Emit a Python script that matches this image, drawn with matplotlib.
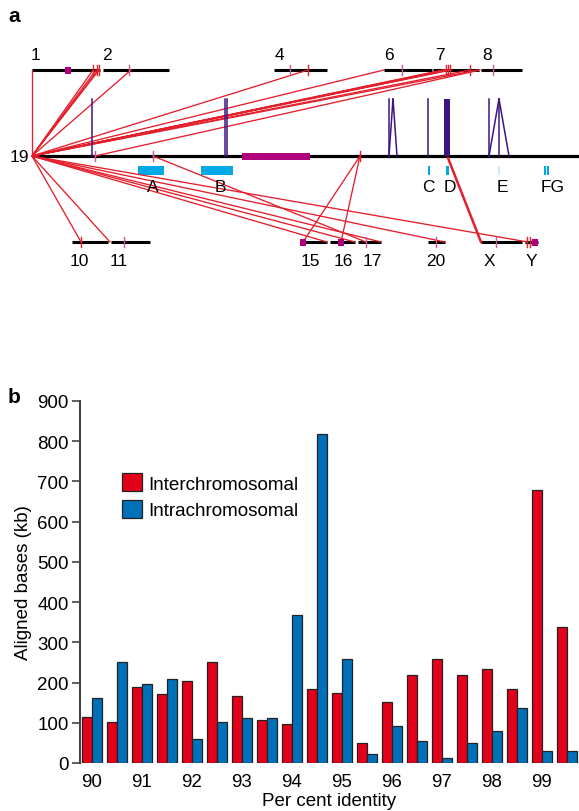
import numpy as np
import matplotlib
matplotlib.use("Agg")
import matplotlib.pyplot as plt
from matplotlib.patches import Rectangle, Patch

plt.rcParams['font.family'] = ['Liberation Sans', 'DejaVu Sans']

W, H = 579, 812

# --- panel a: schematic, positions on a pixel-like map scale ---
row_top, row_19, row_bot = 71, 157, 243
chr19_span = (32, 579)
chr19_cen = (242, 310)

# (name, start, end, label_x)
chrom_top = [("1", 32, 100, 36), ("2", 103, 169, 107), ("4", 274, 327, 279),
             ("6", 384, 432, 389), ("7", 433, 479, 440), ("8", 481, 522, 487)]
chrom_bot = [("10", 72, 108, 79), ("11", 111, 150, 119), ("15", 303, 327, 310),
             ("16", 330, 355, 343), ("17", 358, 381, 372), ("20", 428, 445, 436),
             ("X", 481, 522, 489), ("Y", 525, 538, 531)]

cen_square_top = [68]
cen_square_bot = [303, 341, 535]
pink_ticks_top = [129, 290, 402, 493]
pink_ticks_bot = [124, 366, 436, 496]
pink_ticks_19 = [95, 153]
red_ticks_top = [93, 97, 99, 308, 446, 448, 450, 470]
red_ticks_bot = [81, 527, 530]
red_ticks_19 = [360]

# interchromosomal links: (position on 19, position on target)
links_top = [(32, 32), (32, 93), (32, 96), (32, 98), (32, 99), (32, 131),
             (32, 308), (32, 384), (32, 443), (32, 445), (32, 446), (32, 447),
             (32, 448), (32, 449), (32, 451), (32, 470), (32, 478), (95, 480)]
links_bot = [(32, 81), (32, 110), (32, 327), (32, 355), (32, 381), (32, 445),
             (32, 528), (153, 366), (360, 303), (360, 341)]
link_thick = [(448, 481)]

# intrachromosomal: (upper position, lower position)
intra = [(92, 92), (225, 225), (227, 227), (389, 389), (393, 389), (393, 397),
         (428, 428), (489, 489), (499, 489), (499, 499), (499, 509)]
intra_block = (444, 450)

# segmental blocks below 19: (name, start, end)
blocks = [("A", 138, 164), ("B", 201, 233), ("C", 428, 430), ("D", 446, 449),
          ("E", 498, 499.5), ("F", 544, 545.5), ("G", 547, 548.5)]
block_labels = [("A", 153), ("B", 220), ("C", 428), ("D", 450), ("E", 502), ("FG", 553)]

# --- panel b data ---
identity = np.arange(90, 100, 0.5)
inter_kb = [115, 102, 190, 171, 204, 252, 166, 106, 96, 183,
            174, 50, 151, 218, 259, 218, 233, 183, 678, 338]
intra_kb = [161, 250, 197, 208, 59, 103, 112, 111, 368, 817,
            259, 23, 93, 55, 12, 49, 79, 136, 29, 30]
xtick_vals = list(range(90, 100))

RED = "#e2001a"
BLUE = "#0070b8"
LINK = "#e41e2b"
PURPLE = "#3d1580"
MAGENTA = "#b0007e"
PINK = "#d0589a"
CYAN = "#00a9e6"

fig = plt.figure(figsize=(W / 100, H / 100), dpi=100)

# ---------------- panel a ----------------
top_h = 300
ax_a = fig.add_axes([0, 1 - top_h / H, 1, top_h / H])
ax_a.set_xlim(0, W)
ax_a.set_ylim(top_h, 0)
ax_a.axis("off")

for src, dst in links_top:
    ax_a.plot([src, dst], [row_19, row_top], color=LINK, lw=0.95, zorder=3)
for src, dst in links_bot:
    ax_a.plot([src, dst], [row_19, row_bot], color=LINK, lw=0.95, zorder=3)
for src, dst in link_thick:
    ax_a.plot([src, dst], [row_19 + 2, row_bot], color=LINK, lw=1.8, zorder=3)

for name, s, e, lx in chrom_top:
    ax_a.plot([s, e], [row_top, row_top], color="black", lw=2.2, solid_capstyle="butt", zorder=2)
    ax_a.text(lx, row_top - 16, name, ha="center", va="center", fontsize=12.5)
for name, s, e, lx in chrom_bot:
    ax_a.plot([s, e], [row_bot, row_bot], color="black", lw=2.2, solid_capstyle="butt", zorder=2)
    ax_a.text(lx, row_bot + 19, name, ha="center", va="center", fontsize=12.5)

ax_a.plot(chr19_span, [row_19, row_19], color="black", lw=2.3, solid_capstyle="butt", zorder=2)
ax_a.text(chr19_span[0] - 3, row_19, "19", ha="right", va="center", fontsize=12.5)
ax_a.add_patch(Rectangle((chr19_cen[0], row_19 - 3.5), chr19_cen[1] - chr19_cen[0], 7,
                         color=MAGENTA, lw=0, zorder=4))

for x in cen_square_top:
    ax_a.add_patch(Rectangle((x - 3, row_top - 3.5), 6, 7, color=MAGENTA, lw=0, zorder=4))
for x in cen_square_bot:
    ax_a.add_patch(Rectangle((x - 3, row_bot - 3.5), 6, 7, color=MAGENTA, lw=0, zorder=4))

for xs, y, c in [(pink_ticks_top, row_top, PINK), (pink_ticks_bot, row_bot, PINK),
                 (pink_ticks_19, row_19, PINK), (red_ticks_top, row_top, LINK),
                 (red_ticks_bot, row_bot, LINK), (red_ticks_19, row_19, LINK)]:
    for x in xs:
        ax_a.plot([x, x], [y - 5, y + 5], color=c, lw=1.0, zorder=4)

for up, low in intra:
    ax_a.plot([up, low], [100, row_19], color=PURPLE, lw=1.1, zorder=4)
ax_a.add_patch(Rectangle((intra_block[0], 100), intra_block[1] - intra_block[0], row_19 - 100,
                         color=PURPLE, lw=0, zorder=4))

for name, s, e in blocks:
    col = "#c6ecfa" if name == "E" else CYAN
    ax_a.add_patch(Rectangle((s, 167), e - s, 9, color=col, lw=0, zorder=2))
for name, x in block_labels:
    ax_a.text(x, 188, name, ha="center", va="center", fontsize=12.5)

fig.text(8 / W, 1 - 17 / H, "a", fontsize=15, fontweight="bold", ha="left", va="center")

# ---------------- panel b ----------------
ax_b = fig.add_axes([80 / W, 48 / H, 1 - 80 / W, 362 / H])
bw = 0.2
ax_b.bar(identity - bw / 2, inter_kb, width=bw, color=RED, edgecolor="#222222", lw=0.9,
         label="Interchromosomal")
ax_b.bar(identity + bw / 2, intra_kb, width=bw, color=BLUE, edgecolor="#222222", lw=0.9,
         label="Intrachromosomal")

ax_b.set_xlim(89.76, 99.74)
ax_b.set_ylim(0, 900)
ax_b.set_yticks(range(0, 901, 100))
ax_b.set_xticks(xtick_vals)
ax_b.tick_params(axis="x", length=0, pad=7, labelsize=13.5)
ax_b.tick_params(axis="y", length=6, width=1.2, color="#444444", pad=2, labelsize=13.5)
for side in ["top", "right", "bottom"]:
    ax_b.spines[side].set_visible(False)
ax_b.spines["left"].set_color("#444444")
ax_b.spines["left"].set_linewidth(1.5)
ax_b.set_xlabel("Per cent identity", fontsize=13.5, labelpad=2)
ax_b.set_ylabel("Aligned bases (kb)", fontsize=13.5, labelpad=4)

handles = [Patch(facecolor=RED, edgecolor="#222222", lw=0.9),
           Patch(facecolor=BLUE, edgecolor="#222222", lw=0.9)]
ax_b.legend(handles, ["Interchromosomal", "Intrachromosomal"], loc="upper left",
            bbox_to_anchor=(0.084, 0.80), frameon=False, fontsize=13.6,
            handlelength=1.05, handleheight=1.05, handletextpad=0.35,
            labelspacing=0.4, borderpad=0, borderaxespad=0)

fig.text(8 / W, 1 - 398 / H, "b", fontsize=15, fontweight="bold", ha="left", va="center")

fig.savefig("out.png", dpi=100)
